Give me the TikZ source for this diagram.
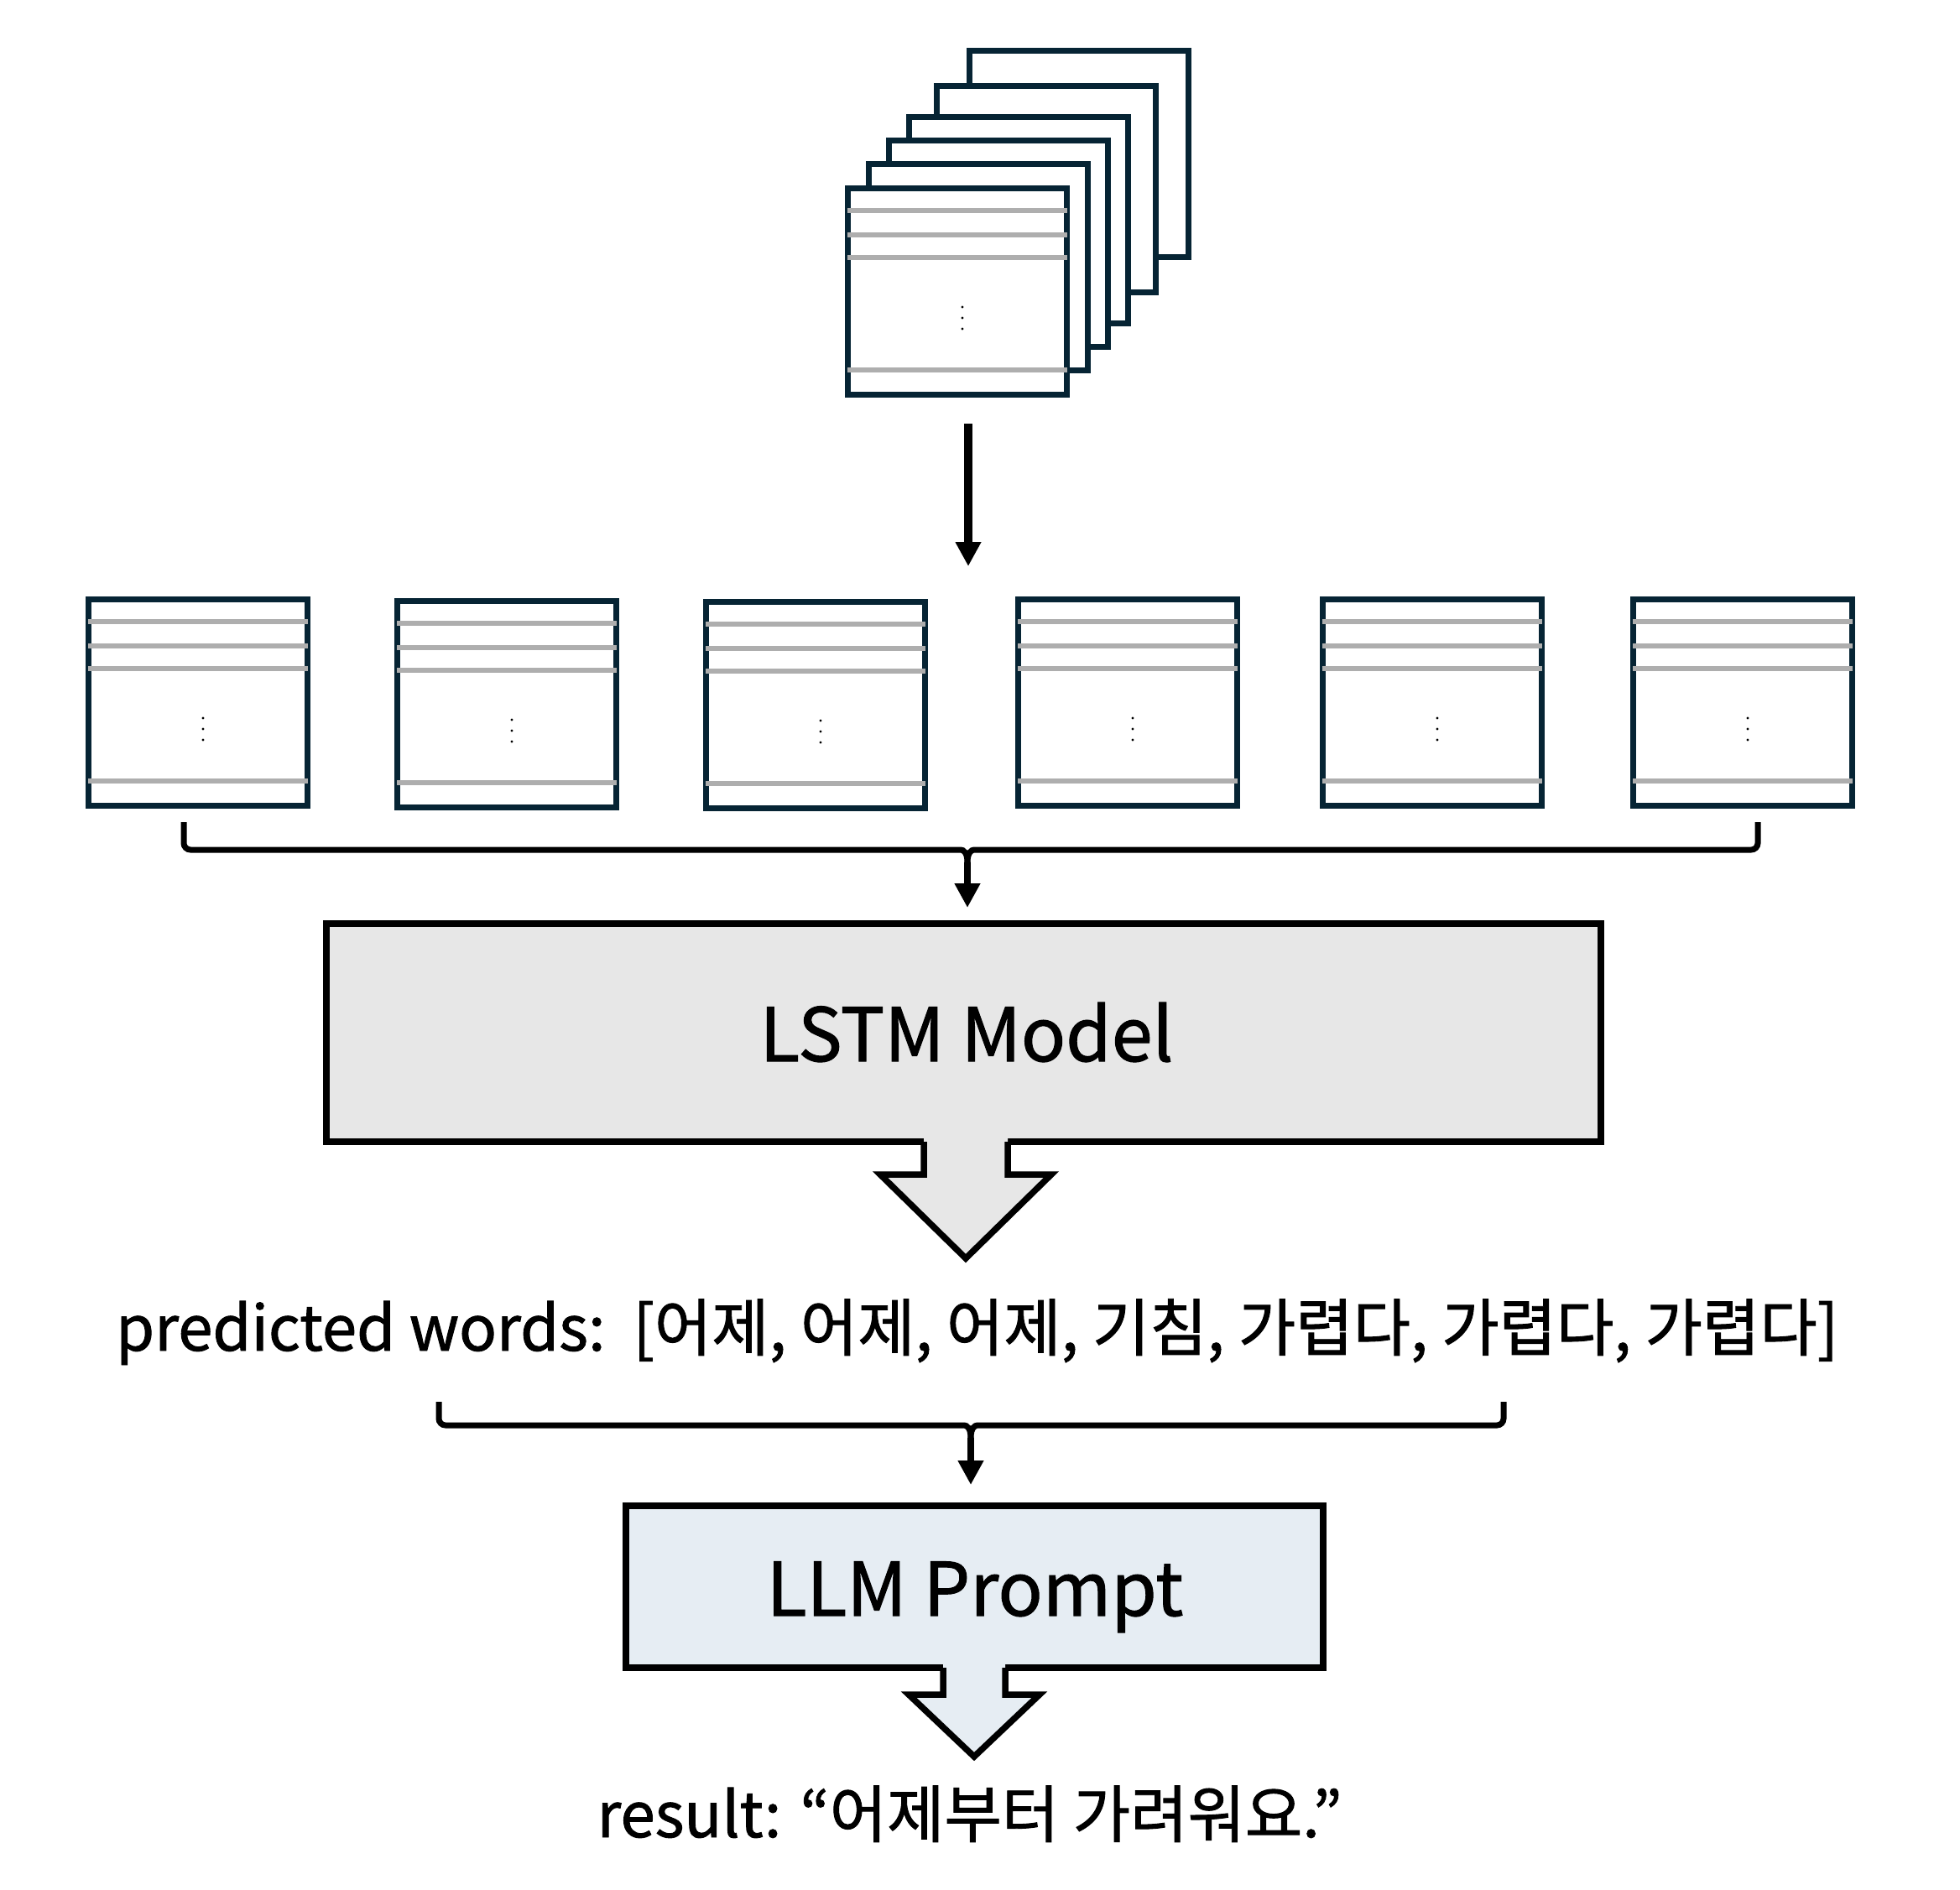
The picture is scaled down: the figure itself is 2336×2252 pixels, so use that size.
\documentclass[tikz,border=0pt]{standalone}
\usepackage{fontspec}
\setmainfont{Noto Sans CJK KR}
\newfontfamily\medfont{Noto Sans CJK KR}[FakeBold=1.2]
\usetikzlibrary{arrows.meta,calc}
\definecolor{navy}{RGB}{6,36,52}
\definecolor{lgray}{RGB}{174,174,174}
\definecolor{boxgray}{RGB}{231,231,231}
\definecolor{boxblue}{RGB}{230,237,243}
\tikzset{
  docf/.style={draw=navy, line width=7pt, fill=white, minimum width=261pt, minimum height=246pt, inner sep=0pt, outer sep=0pt},
  grayline/.style={draw=lgray, line width=6.5pt},
  bigbox/.style={draw=black, line width=7.5pt, inner sep=0pt, outer sep=0pt},
  blockarrow/.style={draw=black, line width=7.5pt, miter limit=10},
  bracket/.style={draw=black, line width=7pt},
  arr/.style={draw=black, line width=8pt, -{Triangle[width=29pt,length=29pt]}},
  bigtxt/.style={font=\medfont\fontsize{88}{100}\selectfont, inner sep=0pt},
  midtxt/.style={font=\medfont\fontsize{74.3}{90}\selectfont, inner sep=0pt}
}
\newcommand\docpage[3]{%
  \node[docf] (#1) at (#2,#3) {};
  \foreach \dy in {-96.5,-67.5,-40.5,93.5}
    \draw[grayline] ($(#1.center)+(-131,\dy)$) -- ++(262,0);
  \foreach \dy in {18.5,31.5,44.5}
    \fill ($(#1.center)+(6,\dy)$) circle (1.6);
}
\begin{document}
\begin{tikzpicture}[x=1pt,y=-1pt]
\useasboundingbox (0,0) rectangle (2336,2252);
% stacked frames
\node[docf] (s6) at (1286,183.5) {};
\node[docf] (s5) at (1247,225.5) {};
\node[docf] (s4) at (1214,262.5) {};
\node[docf] (s3) at (1190,290.5) {};
\node[docf] (s2) at (1166,318.5) {};
\docpage{s1}{1141}{347.5}
% arrow down
\coordinate (a0) at (1154,505);
\coordinate (a1) at (1154,675);
\draw[arr, line width=10pt] (a0) -- (a1);
% row of frames
\docpage{f1}{236}{837.5}
\docpage{f2}{604}{839.5}
\docpage{f3}{972}{840.5}
\docpage{f4}{1344}{837.5}
\docpage{f5}{1707}{837.5}
\docpage{f6}{2077}{837.5}
% bracket 1
\coordinate (b1l) at (219,980);
\coordinate (b1r) at (2095,980);
\coordinate (b1c) at (1153,1028);
\coordinate (b1t) at (1153,1082);
\draw[bracket, rounded corners=8pt] (b1l) -- (219,1013) -- (1137,1013) [sharp corners] .. controls (1148,1013) and (1153,1016) .. (b1c);
\draw[bracket, rounded corners=8pt] (b1r) -- (2095,1013) -- (1169,1013) [sharp corners] .. controls (1158,1013) and (1153,1016) .. (b1c);
\draw[arr] (b1c) -- (b1t);
% LSTM box
\node[bigbox, fill=boxgray, minimum width=1519pt, minimum height=260pt] (lstm) at (1148.5,1231) {};
\fill[boxgray] (1101,1356) -- (1101,1400) -- (1049,1400) -- (1151,1500) -- (1253,1400) -- (1201,1400) -- (1201,1356) -- cycle;
\draw[blockarrow] (1101,1361) -- (1101,1400) -- (1049,1400) -- (1151,1500) -- (1253,1400) -- (1201,1400) -- (1201,1361);
\node[bigtxt, anchor=base] (lstmtxt) at (1152,1265) {LSTM Model};
% predicted words
\node[midtxt, anchor=base] (pred) at (1164.5,1610) {predicted words:\ \ [어제, 어제, 어제, 기침, 가렵다, 가렵다, 가렵다]};
% bracket 2
\coordinate (b2l) at (523,1671);
\coordinate (b2r) at (1792,1671);
\coordinate (b2c) at (1157,1714);
\coordinate (b2t) at (1157,1770);
\draw[bracket, rounded corners=8pt] (b2l) -- (523,1699) -- (1141,1699) [sharp corners] .. controls (1152,1699) and (1157,1702) .. (b2c);
\draw[bracket, rounded corners=8pt] (b2r) -- (1792,1699) -- (1173,1699) [sharp corners] .. controls (1162,1699) and (1157,1702) .. (b2c);
\draw[arr] (b2c) -- (b2t);
% LLM box
\node[bigbox, fill=boxblue, minimum width=831pt, minimum height=193pt] (llm) at (1161.5,1891.5) {};
\fill[boxblue] (1124,1984) -- (1124,2020) -- (1083,2020) -- (1161,2094) -- (1239,2020) -- (1198,2020) -- (1198,1984) -- cycle;
\draw[blockarrow] (1124,1988) -- (1124,2020) -- (1083,2020) -- (1161,2094) -- (1239,2020) -- (1198,2020) -- (1198,1988);
\node[bigtxt, anchor=base] (llmtxt) at (1162,1926) {LLM Prompt};
% result
\node[midtxt, anchor=base] (res) at (1155.5,2190) {result: “어제부터 가려워요.”};
\end{tikzpicture}
\end{document}
